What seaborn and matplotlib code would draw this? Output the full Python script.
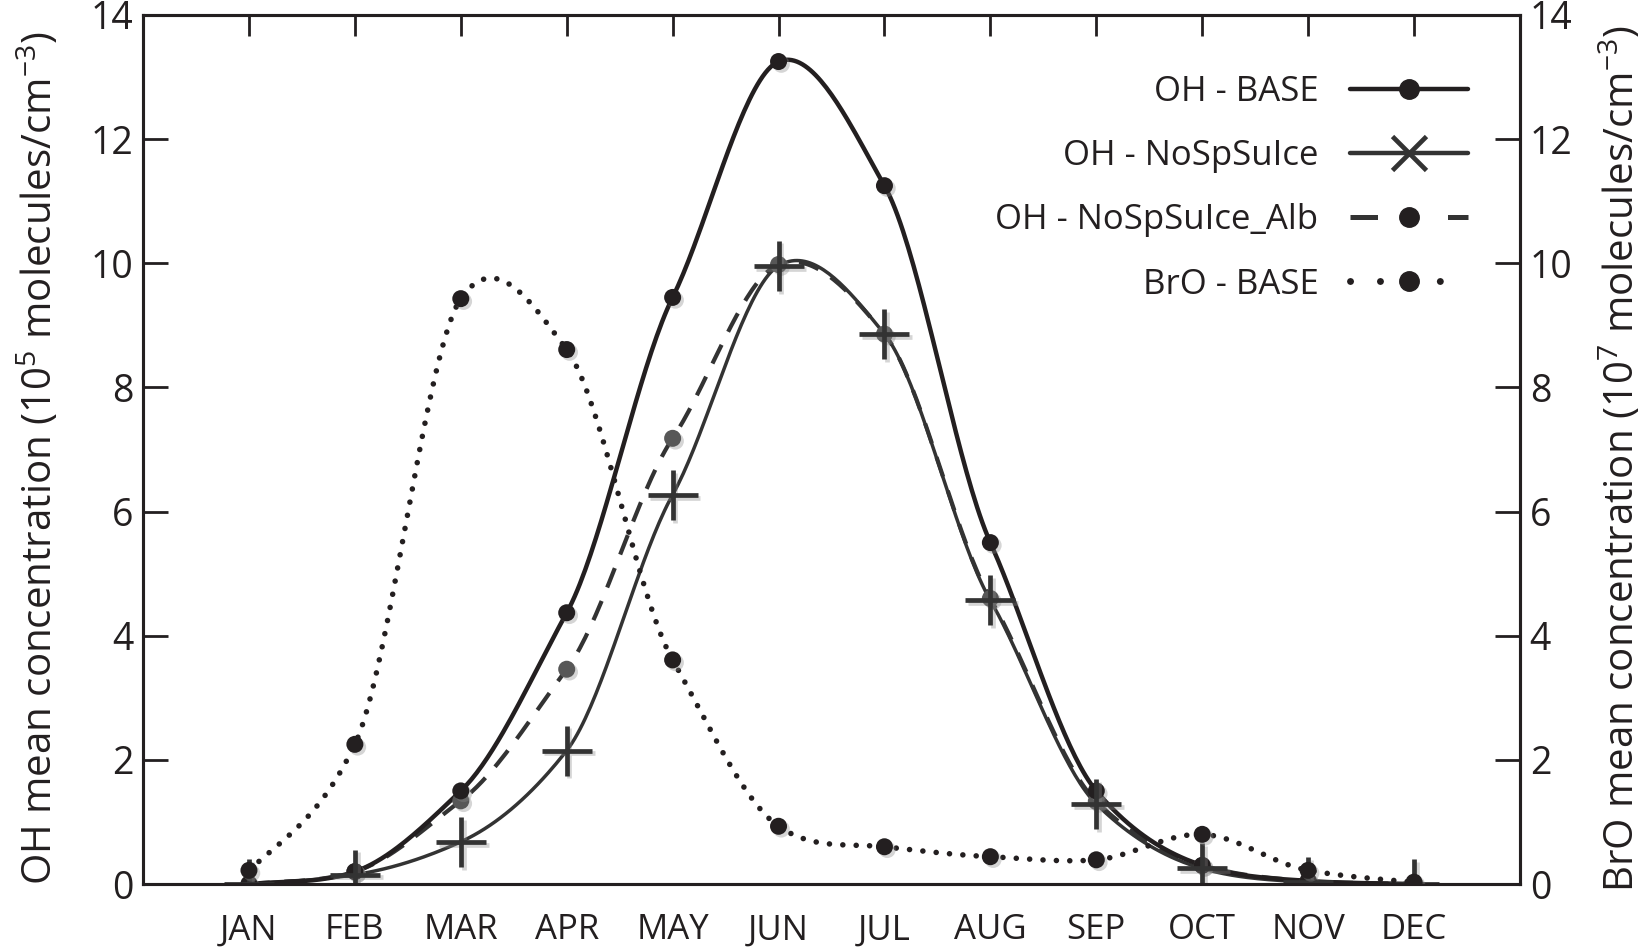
import numpy as np
import pandas as pd
import matplotlib
matplotlib.use('Agg')
import matplotlib.pyplot as plt
import matplotlib.patheffects as pe
from matplotlib.lines import Line2D
import seaborn as sns

# monthly means
months = ['JAN', 'FEB', 'MAR', 'APR', 'MAY', 'JUN', 'JUL', 'AUG', 'SEP', 'OCT', 'NOV', 'DEC']
oh_base = [0.0, 0.2, 1.5, 4.37, 9.45, 13.25, 11.25, 5.5, 1.5, 0.3, 0.05, 0.0]
oh_nospsuice = [0.0, 0.15, 0.68, 2.15, 6.27, 9.96, 8.86, 4.57, 1.29, 0.25, 0.03, 0.0]
oh_alb = [0.0, 0.2, 1.34, 3.46, 7.18, 9.98, 8.86, 4.6, 1.33, 0.3, 0.05, 0.0]
bro_base = [0.22, 2.25, 9.43, 8.61, 3.61, 0.93, 0.6, 0.44, 0.39, 0.8, 0.22, 0.03]

BLACK = '#231f20'
DARK = '#333333'
GREY = '#575757'

sns.set_style('ticks')
plt.rcParams['font.family'] = ['Open Sans', 'DejaVu Sans']
plt.rcParams['mathtext.fontset'] = 'custom'
plt.rcParams['mathtext.rm'] = 'Open Sans'
plt.rcParams['mathtext.it'] = 'Open Sans:italic'
plt.rcParams['mathtext.bf'] = 'Open Sans:bold'


def smooth(xs, ys, n=40, tension=0.78):
    # cardinal-spline style cubic Hermite curve through the monthly points
    xs = np.asarray(xs, float)
    ys = np.asarray(ys, float)
    m = tension * np.gradient(ys, xs)
    px, py = [], []
    for i in range(len(xs) - 1):
        h = xs[i + 1] - xs[i]
        t = np.linspace(0, 1, n, endpoint=False)
        h00 = 2 * t**3 - 3 * t**2 + 1
        h10 = t**3 - 2 * t**2 + t
        h01 = -2 * t**3 + 3 * t**2
        h11 = t**3 - t**2
        px.append(xs[i] + t * h)
        py.append(h00 * ys[i] + h10 * h * m[i] + h01 * ys[i + 1] + h11 * h * m[i + 1])
    px.append([xs[-1]])
    py.append([ys[-1]])
    return pd.DataFrame({'x': np.concatenate(px), 'y': np.concatenate(py)})


x = np.arange(1, len(months) + 1)
dot_shadow = [pe.SimplePatchShadow(offset=(2, -2), shadow_rgbFace='#888888', alpha=0.35), pe.Normal()]
plus_shadow = [pe.SimpleLineShadow(offset=(2, -2), shadow_color='#888888', alpha=0.35), pe.Normal()]

fig = plt.figure(figsize=(16.48, 9.48), dpi=100)
ax = fig.add_axes([0.0868, 0.0675, 0.8355, 0.9167])

# OH curves
sns.lineplot(data=smooth(x, oh_alb), x='x', y='y', ax=ax, estimator=None, sort=False,
             color=DARK, linewidth=3.0, linestyle=(0, (5, 3.5)), legend=False)
sns.lineplot(data=smooth(x, oh_nospsuice), x='x', y='y', ax=ax, estimator=None, sort=False,
             color=DARK, linewidth=2.5, legend=False)
sns.lineplot(data=smooth(x, oh_base), x='x', y='y', ax=ax, estimator=None, sort=False,
             color=BLACK, linewidth=3.2, legend=False)

sns.scatterplot(x=x, y=oh_alb, ax=ax, color=GREY, s=150, edgecolor='none', zorder=4)
ax.collections[-1].set_path_effects(dot_shadow)
sns.scatterplot(x=x, y=oh_base, ax=ax, color=BLACK, s=150, edgecolor='none', zorder=5)
ax.collections[-1].set_path_effects(dot_shadow)
sns.scatterplot(x=x, y=oh_nospsuice, ax=ax, color=DARK, marker='+', s=1300, linewidth=3.4, zorder=6)
ax.collections[-1].set_path_effects(plus_shadow)

ax.set_xlim(0, 13)
ax.set_ylim(0, 14)
ax.set_xticks(x)
ax.set_xticklabels(months)
ax.set_xticks([4, 6, 8], minor=True)
ax.set_yticks(np.arange(0, 15, 2))
ax.tick_params(axis='x', which='major', direction='in', length=15, width=2, color=BLACK,
               top=True, bottom=False, labelsize=25, pad=21, labelcolor=BLACK)
ax.tick_params(axis='x', which='minor', direction='out', length=7, width=1.5, color='#777777',
               top=False, bottom=True)
ax.tick_params(axis='y', which='major', direction='in', length=18, width=2, color=BLACK,
               labelsize=27, pad=7, labelcolor=BLACK, right=False)
ax.set_xlabel('')
ax.set_ylabel('OH mean concentration (10$^{5}$ molecules/cm$^{-3}$)', fontsize=29, color=BLACK)
ax.yaxis.set_label_coords(-0.059, 0.49)
for s in ax.spines.values():
    s.set_color(BLACK)
    s.set_linewidth(2.2)

# BrO on the right axis
ax2 = ax.twinx()
sns.lineplot(data=smooth(x, bro_base), x='x', y='y', ax=ax2, estimator=None, sort=False,
             color=BLACK, linewidth=4, linestyle=(0, (0.01, 2.4)), dash_capstyle='round', legend=False)
sns.scatterplot(x=x, y=bro_base, ax=ax2, color=BLACK, s=150, edgecolor='none', zorder=5)
ax2.collections[-1].set_path_effects(dot_shadow)
ax2.set_ylim(0, 14)
ax2.set_yticks(np.arange(0, 15, 2))
ax2.tick_params(axis='y', direction='in', length=18, width=2, color=BLACK,
                labelsize=27, pad=7, labelcolor=BLACK)
ax2.set_ylabel('BrO mean concentration (10$^{7}$ molecules/cm$^{-3}$)', fontsize=29, color=BLACK)
ax2.yaxis.set_label_coords(1.057, 0.49)
ax2.set_xlim(0, 13)
for s in ax2.spines.values():
    s.set_color(BLACK)
    s.set_linewidth(2.2)

handles = [
    Line2D([], [], color=BLACK, lw=3.2, marker='o', ms=14),
    Line2D([], [], color=DARK, lw=3.2, marker='x', ms=24, mew=3.4),
    Line2D([], [], color=DARK, lw=3.6, ls=(0, (5.5, 14)), marker='o', ms=14, mfc=BLACK, mec=BLACK),
    Line2D([], [], color=BLACK, lw=5, ls=(0, (0.01, 4.3)), dash_capstyle='round',
           marker='o', ms=14),
]
labels = ['OH - BASE', 'OH - NoSpSuIce', 'OH - NoSpSuIce_Alb', 'BrO - BASE']
ax2.legend(handles, labels, loc='upper right', bbox_to_anchor=(0.962, 0.931), frameon=False,
           markerfirst=False, fontsize=25, handlelength=3.4, handletextpad=0.9,
           labelspacing=0.87, borderpad=0, borderaxespad=0, labelcolor=BLACK)

fig.savefig('out.png', dpi=100)
